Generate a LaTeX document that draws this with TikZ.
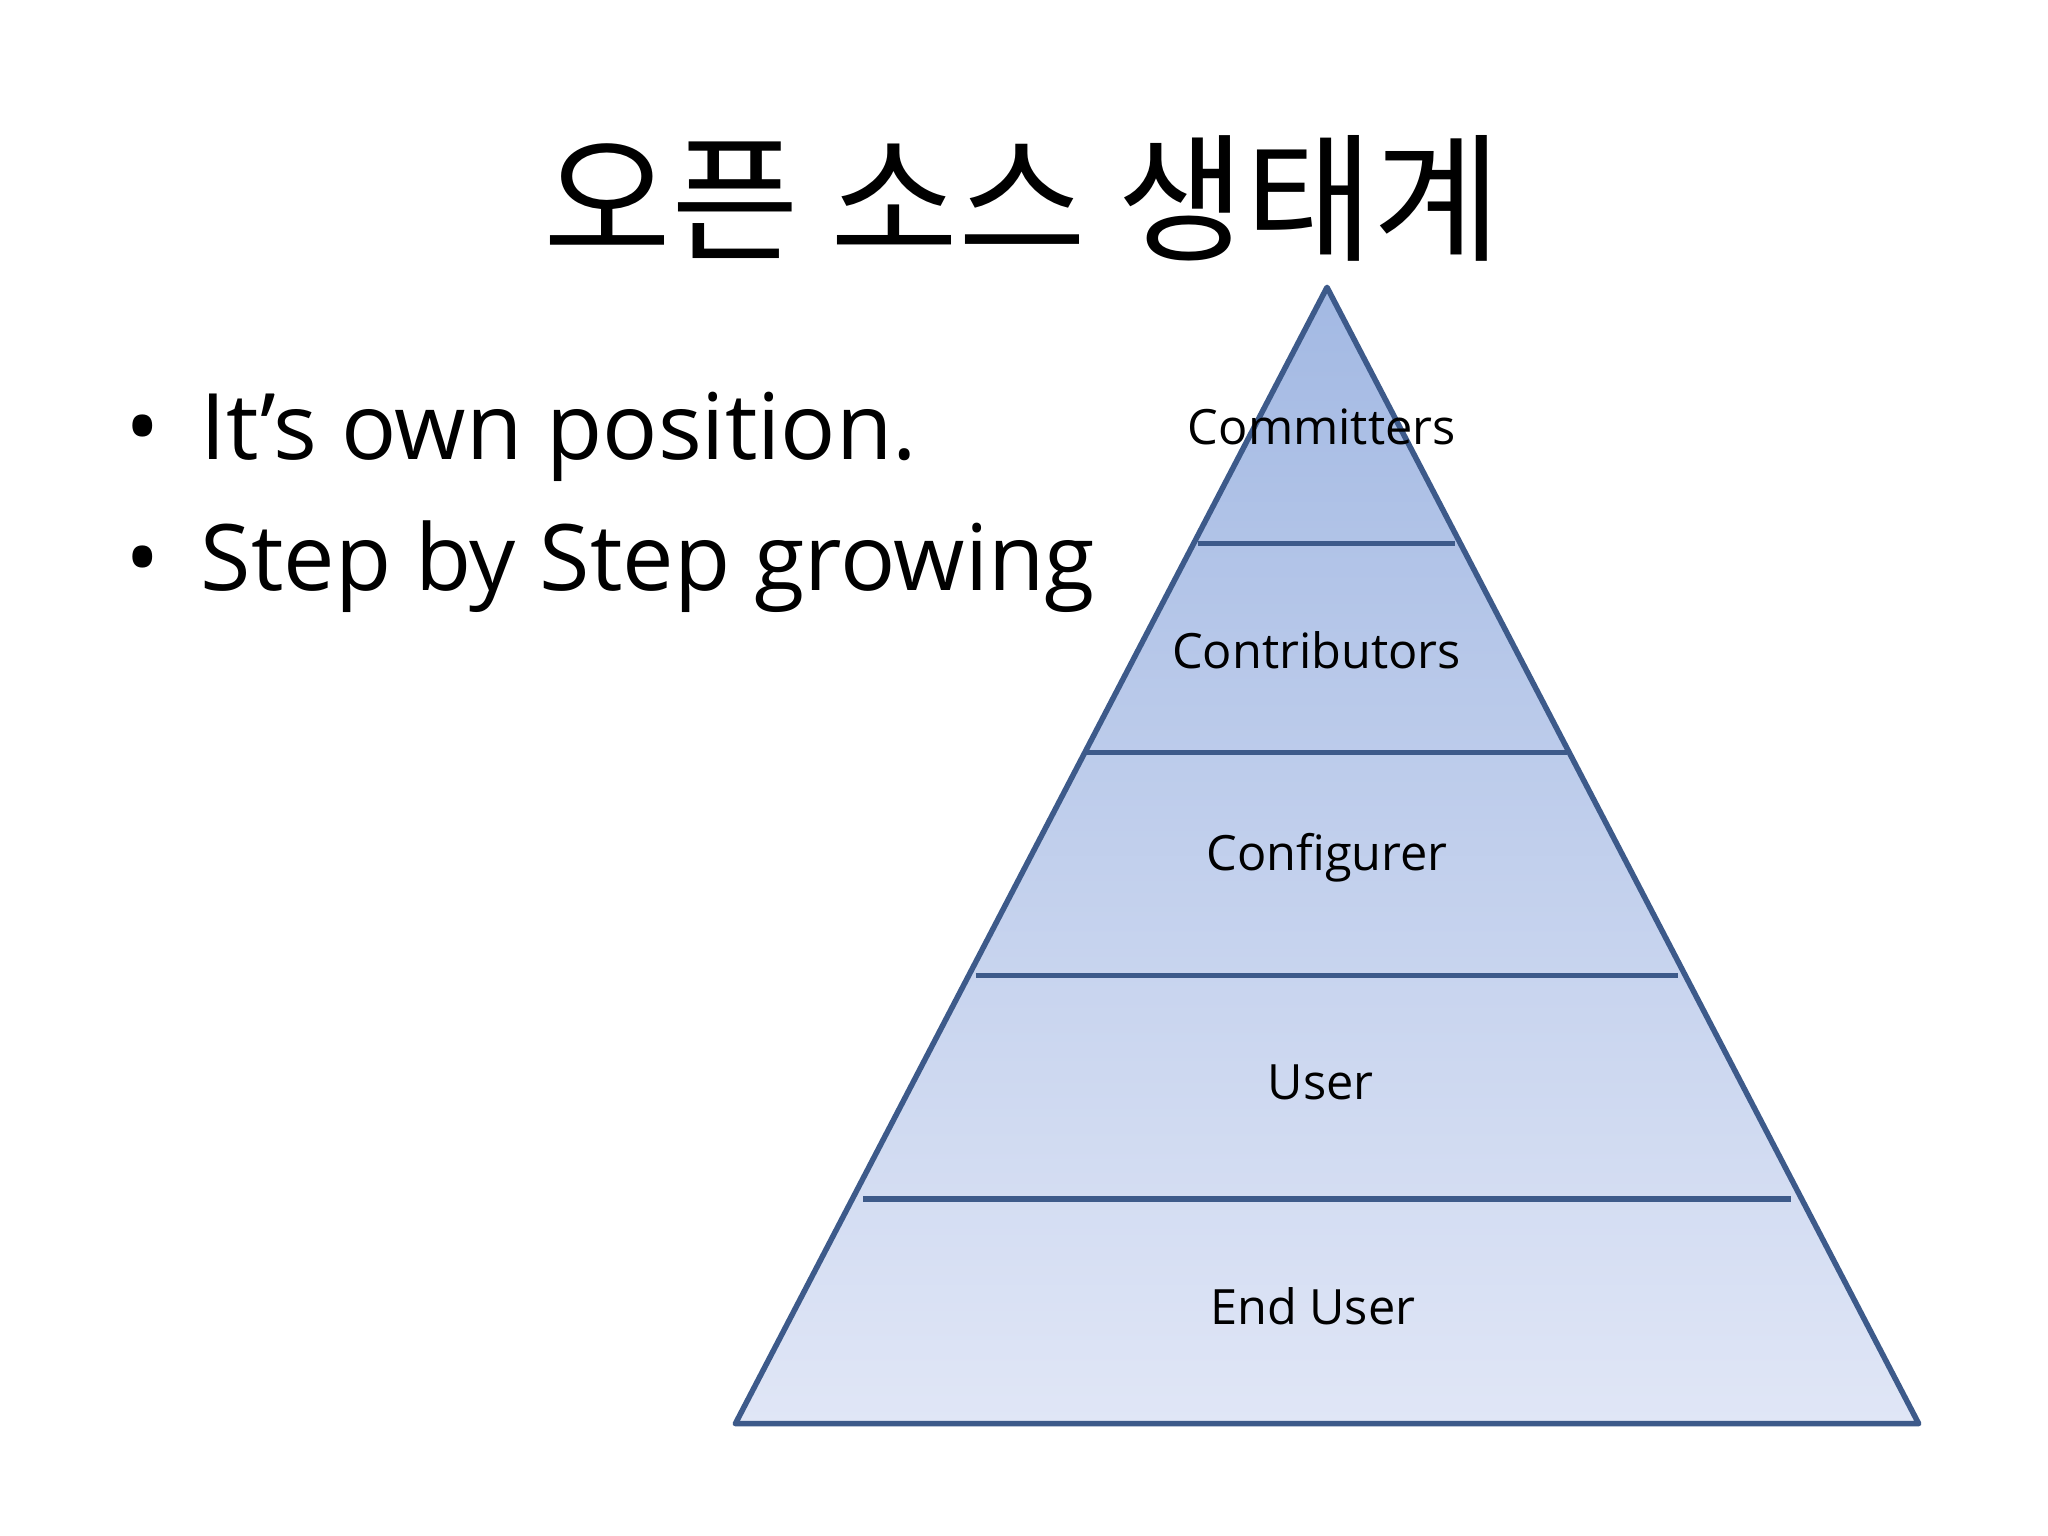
\documentclass[tikz,border=0pt]{standalone}
\usepackage{fontspec}
\setmainfont{Open Sans}
\newfontfamily\kr{Noto Sans CJK KR}
\definecolor{edge}{HTML}{3D5A8A}
\definecolor{topc}{HTML}{A3B9E3}
\definecolor{botc}{HTML}{E0E6F6}
\begin{document}
\begin{tikzpicture}[x=0.1mm,y=-0.1mm,
  lbl/.style={font=\fontsize{10.6}{12}\selectfont, text=black},
  bul/.style={anchor=base west, font=\fontsize{20}{24}\selectfont, inner sep=0}]
\useasboundingbox (0,0) rectangle (1568,1176);
\fill[white] (0,0) rectangle (1568,1176);
\node (title) at (783,152) {\kr\fontsize{30.3}{35}\selectfont 오픈 소스 생태계};
\node[bul] (b1) at (95,352) {•\hspace{0.45em}It’s own position.};
\node[bul] (b2) at (95,452) {•\hspace{0.45em}Step by Step growing};
\shade[top color=topc, bottom color=botc] (1016,220) -- (1469,1090) -- (563,1090) -- cycle;
\draw[edge, line width=1.2pt, line join=round] (1016,220) -- (1469,1090) -- (563,1090) -- cycle;
\foreach \y/\a/\b in {416/917/1114, 576/832/1200, 747/747/1285, 918/661/1371}
  \draw[edge, line width=1.2pt] (\a,\y) -- (\b,\y);
\node[lbl] (l1) at (1012,327) {Committers};
\node[lbl] (l2) at (1008,498) {Contributors};
\node[lbl] (l3) at (1016,657) {Configurer};
\node[lbl] (l4) at (1011,829) {User};
\node[lbl] (l5) at (1005,1000) {End User};
\end{tikzpicture}
\end{document}
